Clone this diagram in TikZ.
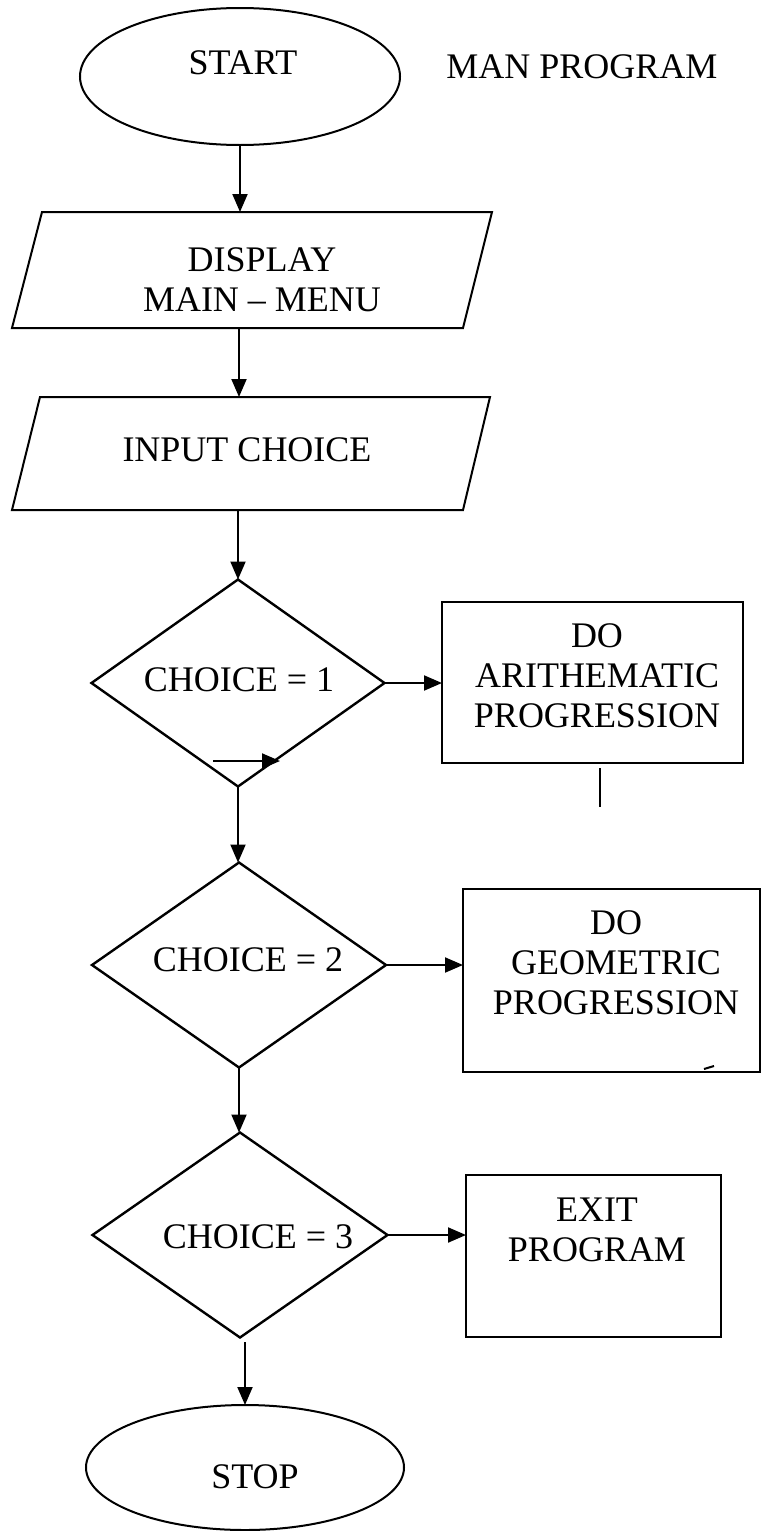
\documentclass[tikz,border=0pt]{standalone}
\usepackage{fontspec}
\setmainfont{Liberation Serif}
\usetikzlibrary{shapes.geometric,arrows.meta}
\begin{document}
\begin{tikzpicture}[x=0.5pt,y=-0.5pt,
  every node/.style={inner sep=0pt, outer sep=0pt},
  shp/.style={draw, line width=1pt},
  term/.style={shp, ellipse},
  dec/.style={shp, diamond, line width=1.2pt},
  proc/.style={shp, rectangle},
  lbl/.style={font=\fontsize{18}{20}\selectfont, align=center},
  arr/.style={line width=1pt, -{Triangle[length=9pt,width=7.5pt]}}]
\useasboundingbox (0,0) rectangle (761,1531);
\fill[white] (0,0) rectangle (761,1531);

% terminals
\node[term, minimum width=160pt, minimum height=68.5pt] (start) at (240,76.5) {};
\node[lbl] (tstart) at (243,63) {START};
\node[lbl] (title) at (582,67) {MAN PROGRAM};

% parallelogram 1
\draw[shp] (42,212) -- (492,212) -- (463,328) -- (12,328) -- cycle;
\coordinate (p1t) at (240,212);
\coordinate (p1b) at (239,328);
\node[lbl] (tp1) at (262,280) {DISPLAY\\MAIN – MENU};

% parallelogram 2
\draw[shp] (40,397) -- (490,397) -- (463,510) -- (12,510) -- cycle;
\coordinate (p2t) at (239,397);
\coordinate (p2b) at (238,510);
\node[lbl] (tp2) at (247,450) {INPUT CHOICE};

% decision 1
\node[dec, minimum width=146.5pt, minimum height=103.5pt] (d1) at (238,683) {};
\node[lbl] (td1) at (239,680) {CHOICE = 1};
\coordinate (ia) at (213,761);
\coordinate (ib) at (280,761);
\node[proc, minimum width=150.5pt, minimum height=80.5pt] (b1) at (592.5,682.5) {};
\node[lbl] (tb1) at (597,676) {DO\\ARITHEMATIC\\PROGRESSION};
\coordinate (m1a) at (600,768);
\coordinate (m1b) at (600,807);

% decision 2
\node[dec, minimum width=147pt, minimum height=102.5pt] (d2) at (239,965) {};
\node[lbl] (td2) at (248,960) {CHOICE = 2};
\node[proc, minimum width=148.5pt, minimum height=91.5pt] (b2) at (611.5,980.5) {};
\node[lbl] (tb2) at (616,963) {DO\\GEOMETRIC\\PROGRESSION};
\coordinate (m2a) at (704,1069);
\coordinate (m2b) at (714,1066);

% decision 3
\node[dec, minimum width=147.5pt, minimum height=102.5pt] (d3) at (240,1235) {};
\node[lbl] (td3) at (258,1237) {CHOICE = 3};
\node[proc, minimum width=127.5pt, minimum height=81pt] (b3) at (593.5,1256) {};
\node[lbl] (tb3) at (597,1230) {EXIT\\PROGRAM};
\coordinate (s3) at (245,1342);

% stop
\node[term, minimum width=159pt, minimum height=62.5pt] (stop) at (245,1467.5) {};
\node[lbl] (tstop) at (255,1477) {STOP};

% connectors
\draw[arr] (start.south) -- (p1t);
\draw[arr] (p1b) -- (p2t);
\draw[arr] (p2b) -- (d1.north);
\draw[arr] (d1.east) -- (d1.east -| b1.west);
\draw[arr] (ia) -- (ib);
\draw[arr] (d1.south) -- (d1.south |- d2.north);
\draw[arr] (d2.east) -- (d2.east -| b2.west);
\draw[arr] (d2.south) -- (d2.south |- d3.north);
\draw[arr] (d3.east) -- (d3.east -| b3.west);
\draw[arr] (s3) -- (stop.north);

% stray marks
\draw[line width=1.3pt] (m1a) -- (m1b);
\draw[line width=1pt] (m2a) -- (m2b);
\end{tikzpicture}
\end{document}
